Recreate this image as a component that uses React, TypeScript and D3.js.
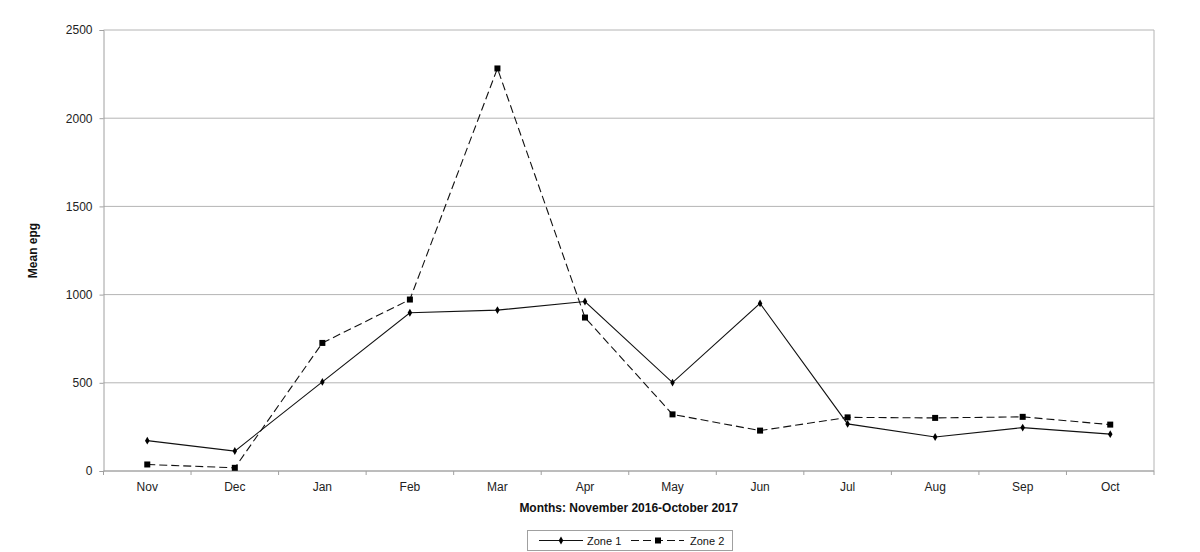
import { useEffect, useRef } from "react";
import * as d3 from "d3";

const MONTHS = ["Nov", "Dec", "Jan", "Feb", "Mar", "Apr", "May", "Jun", "Jul", "Aug", "Sep", "Oct"];
const ZONE1 = [172, 113, 505, 897, 912, 961, 501, 950, 267, 193, 246, 209];
const ZONE2 = [37, 18, 726, 972, 2282, 870, 321, 229, 304, 301, 307, 263];
const Y_TICKS = [0, 500, 1000, 1500, 2000, 2500];

const W = 1200;
const H = 552;
const MARGIN = { top: 30, right: 46, bottom: 81, left: 103.5 };
const FONT = "'Liberation Sans', Arial, sans-serif";

export default function App() {
  const svgRef = useRef<SVGSVGElement>(null);

  useEffect(() => {
    if (!svgRef.current) return;
    const svg = d3.select(svgRef.current);
    svg.selectAll("*").remove();

    const width = W - MARGIN.left - MARGIN.right;
    const height = H - MARGIN.top - MARGIN.bottom;

    const g = svg
      .append("g")
      .attr("transform", `translate(${MARGIN.left},${MARGIN.top})`);

    const x = d3.scaleBand<string>().domain(MONTHS).range([0, width]);
    const y = d3.scaleLinear().domain([0, 2500]).range([height, 0]);
    const cx = (m: string) => (x(m) ?? 0) + x.bandwidth() / 2;

    // gridlines
    g.append("g")
      .selectAll("line")
      .data(Y_TICKS)
      .join("line")
      .attr("x1", 0)
      .attr("x2", width)
      .attr("y1", (d) => y(d))
      .attr("y2", (d) => y(d))
      .attr("stroke", "#b4b4b4")
      .attr("stroke-width", 1);

    // right border
    g.append("line")
      .attr("x1", width)
      .attr("x2", width)
      .attr("y1", 0)
      .attr("y2", height)
      .attr("stroke", "#b4b4b4");

    // y axis
    const yAxis = g
      .append("g")
      .call(d3.axisLeft(y).tickValues(Y_TICKS).tickSize(4).tickPadding(7).tickFormat((d) => `${d}`));
    yAxis.selectAll(".domain, .tick line").attr("stroke", "#a0a0a0");
    yAxis
      .selectAll("text")
      .attr("fill", "#222")
      .attr("font-size", "12px")
      .attr("font-family", FONT);

    // x axis: ticks at category boundaries
    const xAxis = g.append("g").attr("transform", `translate(0,${height})`);
    xAxis
      .append("line")
      .attr("x1", 0)
      .attr("x2", width)
      .attr("stroke", "#a0a0a0");
    xAxis
      .selectAll("line.tk")
      .data(d3.range(MONTHS.length + 1))
      .join("line")
      .attr("class", "tk")
      .attr("x1", (i) => i * x.step())
      .attr("x2", (i) => i * x.step())
      .attr("y1", 0)
      .attr("y2", 4)
      .attr("stroke", "#a0a0a0");
    xAxis
      .selectAll("text")
      .data(MONTHS)
      .join("text")
      .attr("x", (d) => cx(d))
      .attr("y", 20)
      .attr("text-anchor", "middle")
      .attr("fill", "#222")
      .attr("font-size", "12px")
      .attr("font-family", FONT)
      .text((d) => d);

    // axis titles
    svg
      .append("text")
      .attr("x", MARGIN.left + width / 2)
      .attr("y", 512)
      .attr("text-anchor", "middle")
      .attr("font-size", "12px")
      .attr("font-weight", "bold")
      .attr("font-family", FONT)
      .attr("fill", "#111")
      .text("Months: November 2016-October 2017");

    svg
      .append("text")
      .attr("transform", `translate(37,${MARGIN.top + height / 2}) rotate(-90)`)
      .attr("text-anchor", "middle")
      .attr("font-size", "12px")
      .attr("font-weight", "bold")
      .attr("font-family", FONT)
      .attr("fill", "#111")
      .text("Mean epg");

    const line = d3
      .line<number>()
      .x((_, i) => cx(MONTHS[i]))
      .y((d) => y(d));

    // Zone 2 (dashed, squares)
    g.append("path")
      .datum(ZONE2)
      .attr("fill", "none")
      .attr("stroke", "#111")
      .attr("stroke-width", 1.1)
      .attr("stroke-dasharray", "8,4")
      .attr("d", line);
    g.append("g")
      .selectAll("rect")
      .data(ZONE2)
      .join("rect")
      .attr("x", (_, i) => cx(MONTHS[i]) - 3)
      .attr("y", (d) => y(d) - 3)
      .attr("width", 6)
      .attr("height", 6)
      .attr("fill", "#000");

    // Zone 1 (solid, diamonds)
    g.append("path")
      .datum(ZONE1)
      .attr("fill", "none")
      .attr("stroke", "#111")
      .attr("stroke-width", 1.1)
      .attr("d", line);
    g.append("g")
      .selectAll("path")
      .data(ZONE1)
      .join("path")
      .attr("transform", (d, i) => `translate(${cx(MONTHS[i])},${y(d)})`)
      .attr("d", d3.symbol(d3.symbolDiamond, 18)())
      .attr("fill", "#000");

    // legend
    const lg = svg.append("g");
    lg.append("rect")
      .attr("x", 527.5)
      .attr("y", 530.5)
      .attr("width", 205)
      .attr("height", 20)
      .attr("fill", "#fff")
      .attr("stroke", "#a0a0a0");
    const ly = 540.5;
    lg.append("line")
      .attr("x1", 539)
      .attr("x2", 583)
      .attr("y1", ly)
      .attr("y2", ly)
      .attr("stroke", "#111");
    lg.append("path")
      .attr("transform", `translate(561,${ly})`)
      .attr("d", d3.symbol(d3.symbolDiamond, 18)())
      .attr("fill", "#000");
    lg.append("text")
      .attr("x", 587)
      .attr("y", ly + 4)
      .attr("font-size", "11px")
      .attr("font-family", FONT)
      .attr("fill", "#111")
      .text("Zone 1");
    lg.append("line")
      .attr("x1", 631)
      .attr("x2", 684)
      .attr("y1", ly)
      .attr("y2", ly)
      .attr("stroke", "#111")
      .attr("stroke-dasharray", "8,4");
    lg.append("rect")
      .attr("x", 655)
      .attr("y", ly - 3)
      .attr("width", 6)
      .attr("height", 6)
      .attr("fill", "#000");
    lg.append("text")
      .attr("x", 690)
      .attr("y", ly + 4)
      .attr("font-size", "11px")
      .attr("font-family", FONT)
      .attr("fill", "#111")
      .text("Zone 2");
  }, []);

  return (
    <svg
      ref={svgRef}
      width={W}
      height={H}
      style={{ position: "absolute", left: 0, top: 0, background: "#fff" }}
    />
  );
}
